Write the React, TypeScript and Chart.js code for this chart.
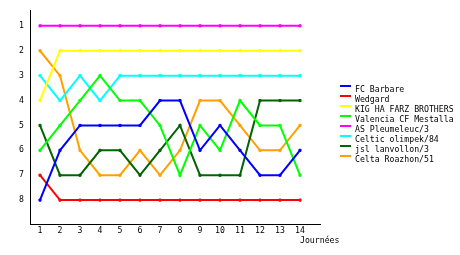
import React, { useEffect, useRef } from "react";
import { Chart, registerables } from "chart.js";

Chart.register(...registerables);

const journees = [1, 2, 3, 4, 5, 6, 7, 8, 9, 10, 11, 12, 13, 14];
const rankTicks = [1, 2, 3, 4, 5, 6, 7, 8];

const teamNames = [
  "FC Barbare",
  "Wedgard",
  "KIG HA FARZ BROTHERS",
  "Valencia CF Mestalla",
  "AS Pleumeleuc/3",
  "Celtic olimpek/84",
  "jsl lanvollon/3",
  "Celta Roazhon/51",
];
const teamColors = ["#0000ff", "#ff0000", "#ffff00", "#00ff00", "#ff00ff", "#00ffff", "#006400", "#ffa000"];

const fcBarbare = [8, 6, 5, 5, 5, 5, 4, 4, 6, 5, 6, 7, 7, 6];
const wedgard = [7, 8, 8, 8, 8, 8, 8, 8, 8, 8, 8, 8, 8, 8];
const kigHaFarz = [4, 2, 2, 2, 2, 2, 2, 2, 2, 2, 2, 2, 2, 2];
const valencia = [6, 5, 4, 3, 4, 4, 5, 7, 5, 6, 4, 5, 5, 7];
const pleumeleuc = [1, 1, 1, 1, 1, 1, 1, 1, 1, 1, 1, 1, 1, 1];
const celtic = [3, 4, 3, 4, 3, 3, 3, 3, 3, 3, 3, 3, 3, 3];
const lanvollon = [5, 7, 7, 6, 6, 7, 6, 5, 7, 7, 7, 4, 4, 4];
const celta = [2, 3, 6, 7, 7, 6, 7, 6, 4, 4, 5, 6, 6, 5];

const seriesValues = [fcBarbare, wedgard, kigHaFarz, valencia, pleumeleuc, celtic, lanvollon, celta];

const FONT = "'DejaVu Sans Mono', monospace";

export default function App() {
  const ref = useRef<HTMLCanvasElement | null>(null);

  useEffect(() => {
    if (!ref.current) return;
    const chart = new Chart(ref.current, {
      type: "line",
      data: {
        labels: journees,
        datasets: seriesValues.map((vals, i) => ({
          label: teamNames[i],
          data: vals,
          borderColor: teamColors[i],
          backgroundColor: teamColors[i],
          borderWidth: 2,
          pointStyle: "rect",
          pointRadius: 1.5,
          pointBorderWidth: 1,
          tension: 0,
          fill: false,
        })),
      },
      options: {
        responsive: false,
        animation: false,
        layout: { padding: { top: 10, right: 140, left: 0, bottom: 0 } },
        plugins: { legend: { display: false }, tooltip: { enabled: false } },
        scales: {
          x: {
            type: "linear",
            min: 0.5,
            max: 15,
            afterBuildTicks: (s: any) => {
              s.ticks = journees.map((v) => ({ value: v }));
            },
            afterFit: (s: any) => {
              s.height = 30;
            },
            grid: { display: false, drawTicks: false },
            border: { display: true, color: "#000", width: 1 },
            ticks: {
              color: "#000",
              font: { family: FONT, size: 8.2 },
              padding: 1,
              maxRotation: 0,
              autoSkip: false,
            },
          },
          y: {
            type: "linear",
            reverse: true,
            min: 0.4,
            max: 9,
            afterBuildTicks: (s: any) => {
              s.ticks = rankTicks.map((v) => ({ value: v }));
            },
            afterFit: (s: any) => {
              s.width = 30;
            },
            grid: { display: false, drawTicks: false },
            border: { display: true, color: "#000", width: 1 },
            ticks: {
              color: "#000",
              font: { family: FONT, size: 8.2 },
              padding: 6,
            },
          },
        },
      },
    });
    return () => chart.destroy();
  }, []);

  return (
    <div style={{ position: "fixed", left: 0, top: 0, width: 460, height: 255, background: "#fff" }}>
      <canvas ref={ref} width={460} height={255} style={{ display: "block" }} />
      {teamNames.map((name, i) => (
        <div key={name}>
          <div
            style={{
              position: "absolute",
              left: 340,
              top: 85 + i * 10,
              width: 11,
              height: 2,
              background: teamColors[i],
            }}
          />
          <div
            style={{
              position: "absolute",
              left: 355,
              top: 84 + i * 10,
              fontFamily: FONT,
              fontSize: "8.2px",
              lineHeight: "10px",
              color: "#000",
              whiteSpace: "nowrap",
            }}
          >
            {name}
          </div>
        </div>
      ))}
      <div
        style={{
          position: "absolute",
          left: 300,
          top: 235,
          fontFamily: FONT,
          fontSize: "8.2px",
          lineHeight: "10px",
          color: "#000",
          whiteSpace: "nowrap",
        }}
      >
        Journées
      </div>
    </div>
  );
}
